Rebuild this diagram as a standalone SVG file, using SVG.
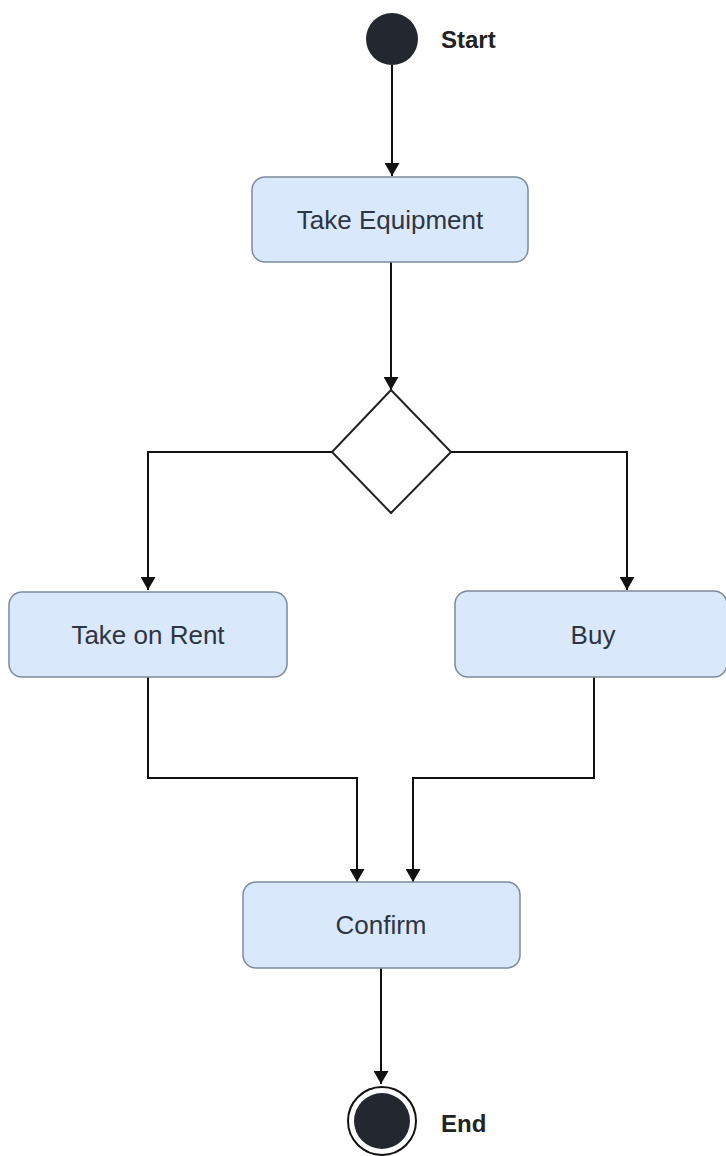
<svg xmlns="http://www.w3.org/2000/svg" width="726" height="1156" viewBox="0 0 726 1156">
<style>
.box{fill:#dae8fc;stroke:#7d8a9c;stroke-width:1.5}
.lbl{font-family:"Liberation Sans",Arial,sans-serif;font-size:26px;fill:#2e3542;text-anchor:middle}
.bold{font-family:"Liberation Sans",Arial,sans-serif;font-size:24px;font-weight:bold;fill:#222}
.edge{fill:none;stroke:#111;stroke-width:2}
</style>
<defs>
<marker id="arr" viewBox="0 0 13 15" refX="13" refY="7.5" markerWidth="13" markerHeight="15" markerUnits="userSpaceOnUse" orient="auto">
<path d="M0,0 L13,7.5 L0,15 z" fill="#111"/>
</marker>
</defs>
<rect width="726" height="1156" fill="#fff"/>
<g id="connectors">
<path class="edge" d="M392,65 V176" marker-end="url(#arr)"/>
<path class="edge" d="M391,262 V390" marker-end="url(#arr)"/>
<path class="edge" d="M332,452 H148 V590" marker-end="url(#arr)"/>
<path class="edge" d="M451,452 H627 V590" marker-end="url(#arr)"/>
<path class="edge" d="M148,677 V778 H357 V882" marker-end="url(#arr)"/>
<path class="edge" d="M594,677 V778 H413 V882" marker-end="url(#arr)"/>
<path class="edge" d="M381,968 V1084" marker-end="url(#arr)"/>
</g>
<g id="start">
<circle cx="392" cy="39" r="26" fill="#232730"/>
<text class="bold" x="441" y="48">Start</text>
</g>
<g id="take-equipment">
<rect class="box" x="252" y="177" width="276" height="85" rx="13"/>
<text class="lbl" x="390" y="229">Take Equipment</text>
</g>
<g id="decision">
<polygon points="391,390 451,452 391,513 332,452" fill="#fff" stroke="#222" stroke-width="2"/>
</g>
<g id="take-on-rent">
<rect class="box" x="9" y="592" width="278" height="85" rx="13"/>
<text class="lbl" x="148" y="644">Take on Rent</text>
</g>
<g id="buy">
<rect class="box" x="455" y="591" width="272" height="86" rx="13"/>
<text class="lbl" x="593" y="644">Buy</text>
</g>
<g id="confirm">
<rect class="box" x="243" y="882" width="277" height="86" rx="13"/>
<text class="lbl" x="381" y="934">Confirm</text>
</g>
<g id="end">
<circle cx="382" cy="1121" r="34" fill="#fff" stroke="#111" stroke-width="2"/>
<circle cx="382" cy="1121" r="28" fill="#232730"/>
<text class="bold" x="441" y="1132">End</text>
</g>
</svg>
